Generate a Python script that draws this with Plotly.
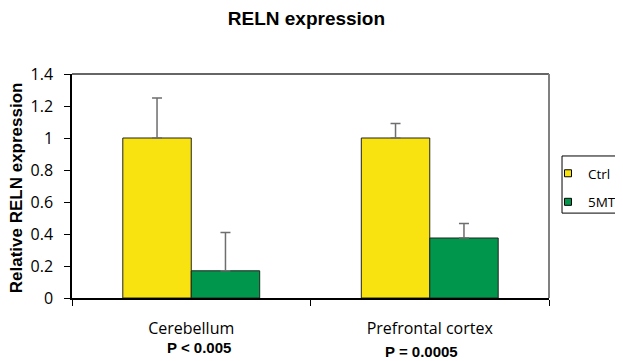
import plotly.graph_objects as go

categories = ["Cerebellum", "Prefrontal cortex"]
ctrl_values = [1.0, 1.0]
ctrl_errors = [0.25, 0.09]
mt_values = [0.17, 0.375]
mt_errors = [0.24, 0.09]
series_names = ["Ctrl", "5MT"]
series_colors = ["#F8E311", "#00964B"]
p_labels = ["P < 0.005", "P = 0.0005"]
y_ticks = [0, 0.2, 0.4, 0.6, 0.8, 1.0, 1.2, 1.4]
y_ticktext = ["0", "0.2", "0.4", "0.6", "0.8", "1", "1.2", "1.4"]

fig = go.Figure()
for name, vals, errs, col in zip(series_names, [ctrl_values, mt_values],
                                 [ctrl_errors, mt_errors], series_colors):
    fig.add_trace(go.Bar(
        name=name, x=categories, y=vals, showlegend=False,
        marker=dict(color=col, line=dict(color="#222222", width=1)),
        error_y=dict(type="data", array=errs, arrayminus=[0, 0], symmetric=False,
                     color="#6e6e6e", thickness=1.5, width=5),
    ))
# legend entries (small square keys)
for name, col in zip(series_names, series_colors):
    fig.add_trace(go.Scatter(
        name=name, x=[None], y=[None], mode="markers", legendgroup=name,
        marker=dict(symbol="square", size=7, color=col, line=dict(color="black", width=1)),
    ))

fig.update_layout(
    width=623, height=361,
    margin=dict(l=64, r=82, t=66, b=71, autoexpand=False),
    paper_bgcolor="white", plot_bgcolor="white",
    barmode="group", bargap=0.426, bargroupgap=0,
    title=dict(text="<b>RELN expression</b>", x=0.479, xanchor="center", y=0.972, yanchor="middle",
               font=dict(family="Liberation Sans, Arial", size=19, color="black")),
    font=dict(family="Open Sans", size=16, color="black"),
    legend=dict(x=0.9979, xanchor="left", y=0.625, yanchor="top",
                borderwidth=0, bgcolor="rgba(0,0,0,0)",
                font=dict(family="Open Sans", size=13.5, color="black"),
                tracegroupgap=8, itemwidth=30),
    xaxis=dict(type="category", showline=True, linecolor="black", linewidth=1.5,
               ticks="outside", tickson="boundaries", ticklen=6, tickcolor="black",
               ticklabelstandoff=15, automargin=False,
               tickfont=dict(family="Open Sans", size=16), showgrid=False),
    yaxis=dict(range=[0, 1.4], tickvals=y_ticks, ticktext=y_ticktext,
               showline=True, linecolor="black", linewidth=1.5, automargin=False,
               ticks="outside", ticklen=6, tickcolor="black", showgrid=False, zeroline=False,
               ticklabelstandoff=8,
               tickfont=dict(family="Open Sans", size=16)),
)

# legend box
fig.add_shape(type="rect", xref="paper", yref="paper", x0=1.0273, x1=1.25, y0=0.379, y1=0.634,
              line=dict(color="black", width=1), fillcolor="white", layer="above")

# y axis title
fig.add_annotation(x=0, y=0.49, xref="paper", yref="paper", xshift=-56, xanchor="center",
                   yanchor="middle", textangle=-90,
                   text="<b>Relative RELN expression</b>", showarrow=False,
                   font=dict(family="Liberation Sans, Arial", size=17, color="black"))

# plot area top and right border
fig.add_shape(type="line", xref="paper", yref="paper", x0=0, x1=1, y0=1, y1=1,
              line=dict(color="#333333", width=1.5))
fig.add_shape(type="line", xref="paper", yref="paper", x0=1, x1=1, y0=0, y1=1,
              line=dict(color="#808080", width=2))

for cat, p, dx, dy in zip(categories, p_labels, [8, -8], [-49, -53]):
    fig.add_annotation(x=cat, y=0, xref="x", yref="y", xshift=dx, yshift=dy, text="<b>" + p + "</b>",
                       showarrow=False, font=dict(family="Liberation Sans, Arial", size=15, color="black"))

fig.write_html("out.html")
